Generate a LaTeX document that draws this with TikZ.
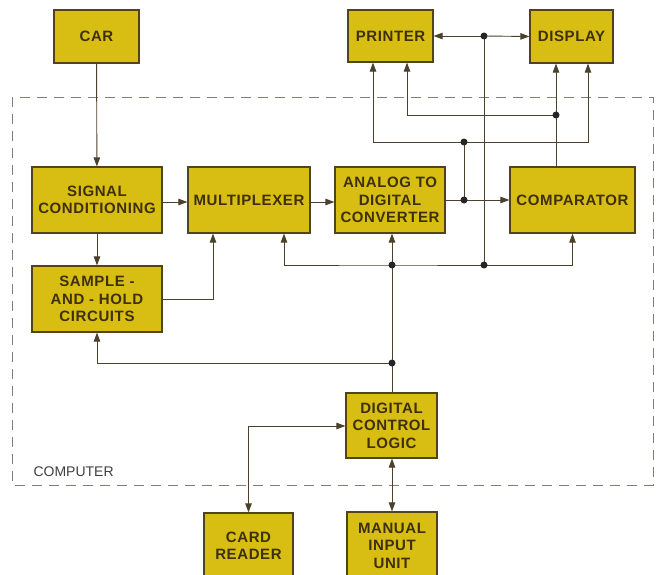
\documentclass[tikz,border=0pt]{standalone}
\usepackage{fontspec}
\setmainfont{Liberation Sans}
\newfontfamily\boxfont{Liberation Sans}[LetterSpace=4.0]
\usetikzlibrary{arrows.meta}
\definecolor{boxfill}{RGB}{216,190,18}
\definecolor{boxline}{RGB}{80,68,25}
\definecolor{boxtext}{RGB}{62,48,12}
\definecolor{wire}{RGB}{75,65,45}
\definecolor{frame}{RGB}{130,125,115}

\begin{document}
\begin{tikzpicture}[x=1pt,y=-1pt,
  unit/.style={draw=boxline,line width=1.2pt,fill=boxfill,text=boxtext,align=center,
    font=\boxfont\fontsize{15}{17.5}\selectfont\bfseries,inner sep=0pt},
  wire/.style={draw=wire,line width=0.9pt},
  tip/.tip={Triangle[length=9pt,width=6.5pt]},
  flow/.style={wire,-tip},
  both/.style={wire,tip-tip},
  dot/.style={circle,fill=black!85,inner sep=0pt,minimum size=7pt}]
\useasboundingbox (0,0) rectangle (658,575);
\clip (0,0) rectangle (658,575);
\fill[white] (0,0) rectangle (658,575);
\draw[frame,line width=0.8pt,dash pattern=on 10pt off 7pt] (12,97) rectangle (653,485);
\node[anchor=base west,text=black!75,font=\fontsize{14}{16}\selectfont] (computer) at (30,476) {COMPUTER};

\node[unit,minimum width=85,minimum height=53] (car) at (96.5,36.5) {CAR};
\node[unit,minimum width=85,minimum height=52] (printer) at (390.5,36) {PRINTER};
\node[unit,minimum width=83,minimum height=53] (display) at (571.5,36.5) {DISPLAY};
\node[unit,minimum width=130,minimum height=66] (signal) at (97,200) {SIGNAL\\CONDITIONING};
\node[unit,minimum width=122,minimum height=66] (mux) at (249,200) {MULTIPLEXER};
\node[unit,minimum width=110,minimum height=66] (adc) at (390,200) {ANALOG TO\\DIGITAL\\CONVERTER};
\node[unit,minimum width=125,minimum height=66] (comp) at (572.5,200) {COMPARATOR};
\node[unit,minimum width=130,minimum height=66] (sah) at (97,299) {SAMPLE -\\AND - HOLD\\CIRCUITS};
\node[unit,minimum width=91,minimum height=65] (logic) at (391.5,425.5) {DIGITAL\\CONTROL\\LOGIC};
\node[unit,minimum width=89,minimum height=66] (card) at (248.5,546) {CARD\\READER};
\node[unit,minimum width=90,minimum height=67] (manual) at (392,545.5) {MANUAL\\INPUT\\UNIT};

\coordinate (outsplit) at (464,200);
\coordinate (outbus) at (464,142);
\coordinate (cmpsplit) at (556,115);
\coordinate (prtsplit) at (484,36);
\coordinate (busright) at (484,265);
\coordinate (busadc) at (392,265);
\coordinate (ctlsplit) at (392,363);
\coordinate (cardturn) at (248.5,426);

\draw[flow] (car) -- (signal);
\draw[flow] (signal.east |- 0,202) -- (mux.west |- 0,202);
\draw[flow] (mux.east |- 0,202) -- (adc.west |- 0,202);
\draw[flow] (signal) -- (sah);
\draw[flow] (sah.east) -| ([xshift=-36pt]mux.south);
\draw[flow] (adc.east |- outsplit) -- (comp.west |- outsplit);
\draw[wire] (outsplit) -- (outbus);
\draw[flow] (outbus) -| ([xshift=-17.5pt]printer.south);
\draw[flow] (outbus) -| ([xshift=16.5pt]display.south);
\draw[wire] (comp.north -| cmpsplit) -- (cmpsplit);
\draw[flow] (cmpsplit) -- (display.south -| cmpsplit);
\draw[flow] (cmpsplit) -| ([xshift=16.5pt]printer.south);
\draw[flow] (prtsplit) -- (printer.east);
\draw[flow] (prtsplit) -- (display.west);
\draw[wire] (prtsplit) -- (busright);
\draw[flow] (busright) -| (comp.south);
\draw[flow] (busright) -- (busadc) -| ([xshift=35pt]mux.south);
\draw[flow] (busadc) -- (adc.south -| busadc);
\draw[wire] (busadc) -- (logic.north -| busadc);
\draw[flow] (ctlsplit) -| (sah.south);
\draw[both] (card.north) |- (cardturn) -- (logic.west |- cardturn);
\draw[both] (logic.south -| ctlsplit) -- (manual.north -| ctlsplit);

\foreach \j in {outsplit,outbus,cmpsplit,prtsplit,busright,busadc,ctlsplit}
  \node[dot] at (\j) {};
\end{tikzpicture}
\end{document}
